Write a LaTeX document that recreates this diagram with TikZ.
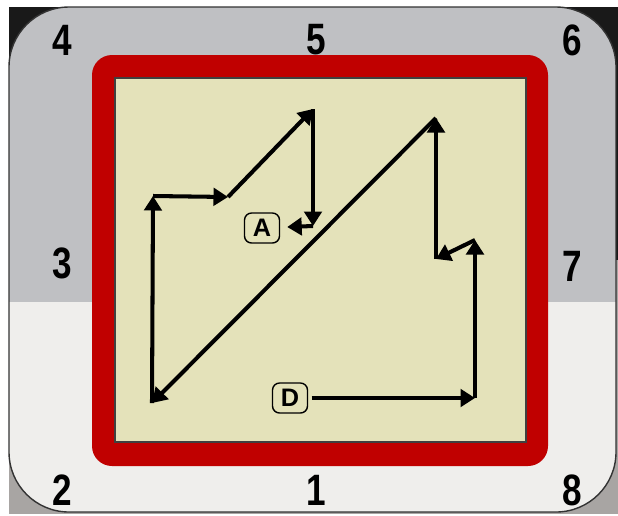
\documentclass[tikz,border=0pt]{standalone}
\usepackage{fontspec}
\setsansfont{Liberation Sans}
\usetikzlibrary{arrows.meta, positioning}
\definecolor{frame}{HTML}{C00000}
\definecolor{board}{HTML}{E4E2BA}
\definecolor{wall}{HTML}{BFC0C3}
\definecolor{floor}{HTML}{EFEEEC}
\definecolor{corner}{HTML}{A8A5A3}

\begin{document}
\begin{tikzpicture}[
      x=0.02cm, y=-0.02cm,
      num/.style={font=\fontsize{25}{25}\sffamily\bfseries, xscale=0.8, inner sep=0pt},
      tag/.style={rectangle, rounded corners=4pt, draw=black, thick, fill=board,
                  minimum width=0.7cm, minimum height=0.6cm, inner sep=0pt, font=\Large\sffamily\bfseries},
      arr/.style={-{Triangle[length=2.9mm,width=3.5mm]}, line width=2.3pt}
    ]
      \useasboundingbox (0,0) rectangle (618,515);
      \fill[white] (0,0) rectangle (618,515);
      % outside the rounded panel
      \fill[black!90] (9,7) rectangle (618,260);
      \fill[corner] (9,260) rectangle (618,514);
      \begin{scope}
        \clip[rounded corners=1.2cm] (9,7) rectangle (616,512);
        \fill[wall] (9,7) rectangle (616,302);
        \fill[floor] (9,302) rectangle (616,512);
      \end{scope}
      \draw[black!80, line width=0.8pt, rounded corners=1.2cm] (9,7) rectangle (616,512);
      % red frame and board
      \fill[frame, rounded corners=0.4cm] (92,55) rectangle (548,466);
      \draw[black!75, line width=0.8pt, fill=board] (115,78) rectangle (526,442);
      % numbers
      \node[num] (n4) at (62,40) {4};
      \node[num] (n5) at (316,40) {5};
      \node[num] (n6) at (572,40) {6};
      \node[num] (n3) at (62,263) {3};
      \node[num] (n7) at (572,266) {7};
      \node[num] (n2) at (62,490) {2};
      \node[num] (n1) at (316,490) {1};
      \node[num] (n8) at (572,490) {8};
      % route
      \node[tag] (D) at (290,398) {D};
      \node[tag] (A) at (262,228) {A};
      \coordinate (c1) at (475,398);
      \coordinate (c2) at (475,240);
      \coordinate (c3) at (436,259);
      \coordinate (c4) at (436,118);
      \coordinate (c5) at (152,403);
      \coordinate (c6) at (153,196);
      \coordinate (c7) at (228,197);
      \coordinate (c8) at (313,109);
      \coordinate (c9) at (313,226);
      \draw[arr, shorten <=2pt] (D) -- (c1);
      \draw[arr] (c1) -- (c2);
      \draw[arr] (c2) -- (c3);
      \draw[arr] (c3) -- (c4);
      \draw[arr] (c4) -- (c5);
      \draw[arr] (c5) -- (c6);
      \draw[arr] (c6) -- (c7);
      \draw[arr] (c7) -- (c8);
      \draw[arr] (c8) -- (c9);
      \draw[arr, shorten >=4pt] (c9) -- (A);
    \end{tikzpicture}
\end{document}
